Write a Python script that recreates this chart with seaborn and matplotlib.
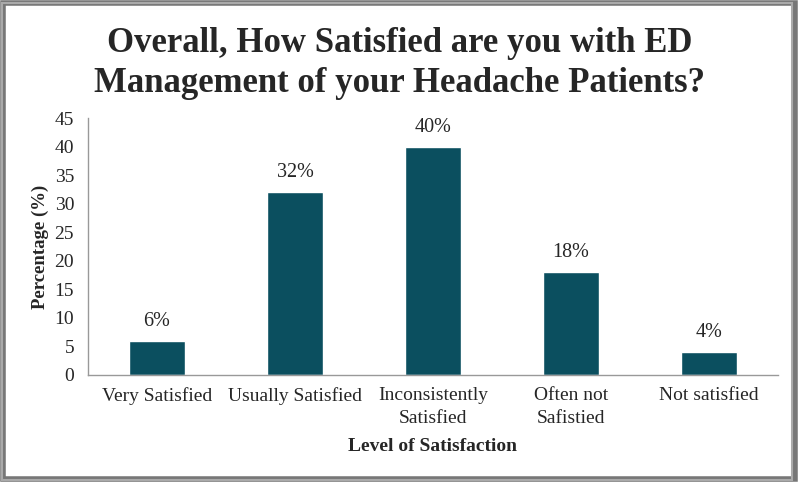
import matplotlib
matplotlib.use("Agg")
import matplotlib.pyplot as plt
import seaborn as sns
from matplotlib.patches import Rectangle

# data
categories = ["Very Satisfied", "Usually Satisfied", "Inconsistently\nSatisfied",
              "Often not\nSafistied", "Not satisfied"]
percentages = [6, 32, 40, 18, 4]
bar_labels = ["6%", "32%", "40%", "18%", "4%"]

sns.set_theme(style="white")
plt.rcParams['font.family'] = ['Liberation Serif', 'DejaVu Serif']

fig = plt.figure(figsize=(8, 4.82), dpi=100)
ax = fig.add_axes([0.11, 0.222, 0.8625, 0.533])

sns.barplot(x=categories, y=percentages, color="#0b4f5f", saturation=1,
            width=0.4, ax=ax)

for i, (v, lab) in enumerate(zip(percentages, bar_labels)):
    ax.annotate(lab, (i, v), xytext=(0, 14), textcoords="offset points",
                ha="center", va="center", fontsize=14.5, annotation_clip=False)

ax.set_ylim(0, 45)
ax.set_xlim(-0.5, 4.5)
ax.set_yticks(range(0, 46, 5))
ax.set_xticks([x - 0.5 for x in range(6)], minor=False)
ax.set_xticklabels([])
ax.set_xticks(range(5), minor=True)
ax.set_xticklabels(categories, minor=True, fontsize=14, linespacing=1.45)
ax.tick_params(axis="x", which="minor", length=0, pad=9)
ax.tick_params(axis="x", which="major", length=5, color="#999999", direction="out")
ax.tick_params(axis="y", length=5, color="#999999", direction="out", labelsize=14, pad=5)

for s in ["top", "right"]:
    ax.spines[s].set_color("none")
for s in ["left", "bottom"]:
    ax.spines[s].set_color("#999999")
    ax.spines[s].set_linewidth(1)

ax.set_ylabel("Percentage (%)", fontsize=13.5, fontweight="bold", labelpad=4)
ax.set_xlabel("Level of Satisfaction", fontsize=14, fontweight="bold", labelpad=8)

fig.text(0.5, 0.868, "Overall, How Satisfied are you with ED\nManagement of your Headache Patients?",
         ha="center", va="center", fontsize=25, fontweight="bold", linespacing=1.3)

# frame with a shadow on the right and bottom
fig.patches.append(Rectangle((0.004, 0.006), 0.99, 0.988, transform=fig.transFigure,
                             fill=False, edgecolor="#777777", linewidth=4))
fig.patches.append(Rectangle((0.002, 0.004), 0.988, 0.99, transform=fig.transFigure,
                             fill=False, edgecolor="#aaaaaa", linewidth=1.5))

fig.savefig("out.png", dpi=100)
